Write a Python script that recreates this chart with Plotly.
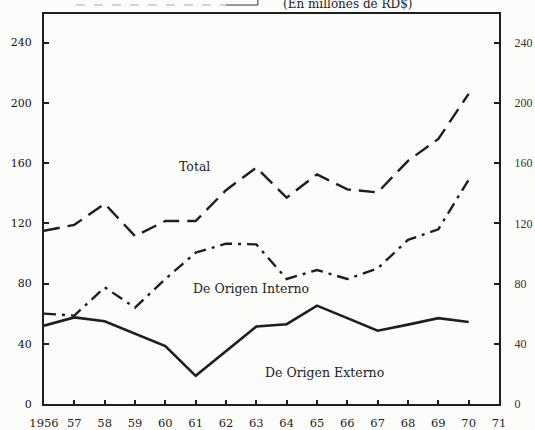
import plotly.graph_objects as go

years = list(range(1956, 1971))
total = [115, 119, 133, 111.5, 121.5, 121.5, 142, 157, 137, 152.5, 142.5, 140.5, 161.5, 176, 206]
interno = [60, 58.7, 77.5, 64, 83, 100.5, 106.5, 106, 83, 89, 83, 90, 109, 116, 149]
externo = [52, 57.5, 55, 46.5, 38.5, 18.7, 35, 51.5, 53, 65.3, 57, 48.7, 52.7, 57, 54.5]

x_tickvals = list(range(1956, 1972))
x_ticktext = ["1956"] + [str(y % 100) for y in range(1957, 1972)]
y_tickvals = [0, 40, 80, 120, 160, 200, 240]

ink = "#1e1e1e"
font_family = "DejaVu Serif"

fig = go.Figure()
fig.add_trace(go.Scatter(x=years, y=total, mode="lines",
                         line=dict(color=ink, width=2.4, dash="16px,8px"), name="Total"))
fig.add_trace(go.Scatter(x=years, y=interno, mode="lines",
                         line=dict(color=ink, width=2.4, dash="12px,6px,3px,6px"), name="De Origen Interno"))
fig.add_trace(go.Scatter(x=years, y=externo, mode="lines",
                         line=dict(color=ink, width=2.6), name="De Origen Externo"))
fig.add_trace(go.Scatter(x=[years[0]], y=[0], yaxis="y2", mode="markers",
                         marker=dict(opacity=0), showlegend=False, hoverinfo="skip"))

fig.update_layout(
    width=535, height=430,
    margin=dict(l=44, r=36, t=14, b=26),
    paper_bgcolor="#fcfcfa", plot_bgcolor="#fcfcfa",
    showlegend=False,
    font=dict(family=font_family, color=ink, size=12),
    xaxis=dict(range=[1956, 1971], tickvals=x_tickvals, ticktext=x_ticktext,
               showline=True, linecolor=ink, linewidth=2, mirror=True,
               ticks="inside", ticklen=4, tickwidth=1.5, tickcolor=ink,
               showgrid=False, zeroline=False, ticklabelstandoff=7, automargin=False,
               tickfont=dict(size=11.5, family=font_family, color=ink)),
    yaxis=dict(range=[0, 259], tickvals=y_tickvals,
               showline=True, linecolor=ink, linewidth=2,
               ticks="inside", ticklen=5, tickwidth=1.8, tickcolor=ink,
               showgrid=False, zeroline=False, ticklabelstandoff=8, automargin=False,
               tickfont=dict(size=11, family=font_family, color="#111")),
    yaxis2=dict(range=[0, 259], tickvals=y_tickvals, overlaying="y", side="right",
                showline=True, linecolor=ink, linewidth=2,
                ticks="inside", ticklen=5, tickwidth=1.8, tickcolor=ink,
                showgrid=False, zeroline=False, ticklabelstandoff=11, automargin=False,
                tickfont=dict(size=12, family="Liberation Serif", color="#333")),
)

fig.add_annotation(x=1960.95, y=158, text="Total", showarrow=False,
                   font=dict(size=12.5, family=font_family, color=ink))
fig.add_annotation(x=1962.82, y=77, text="De Origen Interno", showarrow=False,
                   font=dict(size=12.5, family=font_family, color=ink))
fig.add_annotation(x=1965.26, y=21, text="De Origen Externo", showarrow=False,
                   font=dict(size=12.5, family=font_family, color=ink))
fig.add_annotation(xref="paper", yref="paper", x=0.668, y=1.026, xanchor="center",
                   yanchor="middle", text="(En millones de RD$)", showarrow=False,
                   font=dict(size=12, family=font_family, color=ink))

# fragment of the table border above the chart (scan remnant)
fig.add_shape(type="line", xref="paper", yref="paper", x0=0.07, x1=0.40, y0=1.023, y1=1.023,
              line=dict(color="#aaaaaa", width=1, dash="dash"))
fig.add_shape(type="line", xref="paper", yref="paper", x0=0.40, x1=0.47, y0=1.023, y1=1.023,
              line=dict(color="#555555", width=1.2))
fig.add_shape(type="line", xref="paper", yref="paper", x0=0.47, x1=0.47, y0=1.023, y1=1.04,
              line=dict(color="#555555", width=1.2))

fig.write_html("out.html", config={"displayModeBar": False},
               post_script="document.body.style.margin='0';document.body.style.overflow='hidden';")
